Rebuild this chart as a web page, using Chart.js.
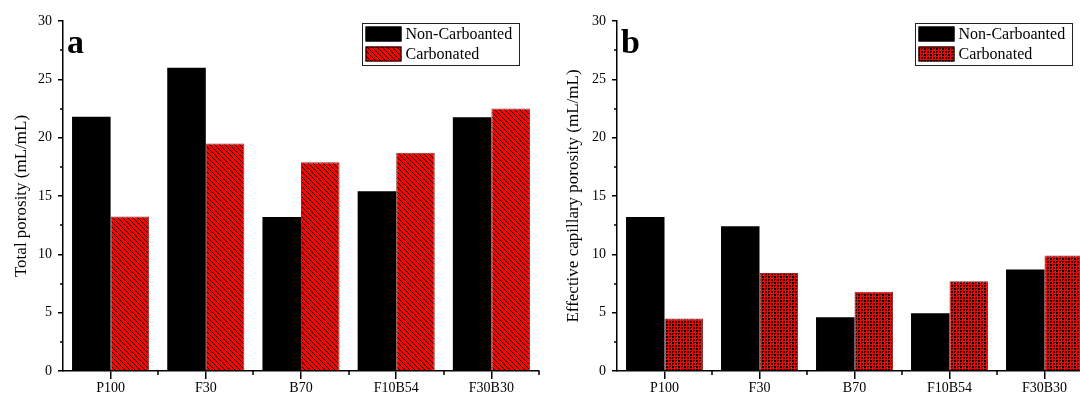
<!DOCTYPE html>
<html>
<head>
<meta charset="utf-8">
<title>Porosity</title>
<script src="https://cdn.jsdelivr.net/npm/chart.js@4.4.1/dist/chart.umd.min.js"></script>
<style>
  html, body { margin: 0; padding: 0; background: #fff; overflow: hidden; }
  #wrap { position: relative; width: 1080px; height: 396px; overflow: hidden; }
  #boxA { position: absolute; left: 0; top: 0; }
  #boxB { position: absolute; left: 540px; top: 0; }
</style>
</head>
<body>
<div id="wrap">
  <canvas id="boxA" width="540" height="396"></canvas>
  <canvas id="boxB" width="560" height="396"></canvas>
</div>
<script>
// Mix designs
const categories = ['P100', 'F30', 'B70', 'F10B54', 'F30B30'];
const seriesNames = ['Non-Carboanted', 'Carbonated'];

// (a) total porosity, mL/mL
const totalNonCarb = [21.8, 26.0, 13.2, 15.4, 21.75];
const totalCarb = [13.25, 19.5, 17.9, 18.7, 22.5];

// (b) effective capillary porosity, mL/mL
const capNonCarb = [13.2, 12.4, 4.6, 4.95, 8.7];
const capCarb = [4.5, 8.4, 6.8, 7.7, 9.9];

// y axis: labelled every 5, minor ticks between
const yMin = 0;
const yMax = 30;
const yStep = 5;

const FONT = "'Liberation Serif', 'Times New Roman', serif";

// small pixel tile -> repeating fill
function tilePattern(size, isBlack) {
  const c = document.createElement('canvas');
  c.width = size; c.height = size;
  const g = c.getContext('2d');
  const img = g.createImageData(size, size);
  for (let y = 0; y < size; y++) {
    for (let x = 0; x < size; x++) {
      const i = (y * size + x) * 4;
      img.data[i] = isBlack(x, y) ? 0 : 255;
      img.data[i + 1] = 0;
      img.data[i + 2] = 0;
      img.data[i + 3] = 255;
    }
  }
  g.putImageData(img, 0, 0);
  return g.createPattern(c, 'repeat');
}

// red fill with black "\" hatching
function hatchPattern() {
  return tilePattern(5, (x, y) => ((x - y) % 5 + 5) % 5 === 0);
}

// red fill with small black checks
function checkPattern() {
  return tilePattern(6, (x, y) => {
    if (x % 3 === 2 || y % 3 === 2) return false;
    const odd = (Math.floor(x / 3) + Math.floor(y / 3)) % 2 === 1;
    return !(odd && x % 3 === 1 && y % 3 === 1);
  });
}

// panel letter, boxed legend, minor y ticks and short ticks between groups
const panelExtras = {
  id: 'panelExtras',
  afterDraw(chart, args, opts) {
    const { ctx, chartArea, scales } = chart;
    const { left, right, top, bottom } = chartArea;
    const x = scales.x, y = scales.y;
    ctx.save();
    ctx.strokeStyle = '#000';
    ctx.lineWidth = 1.5;

    ctx.beginPath();
    for (let v = yMin + yStep / 2; v < yMax; v += yStep) {
      const py = Math.round(y.getPixelForValue(v));
      ctx.moveTo(left - 3, py);
      ctx.lineTo(left, py);
    }
    for (let i = 1; i <= categories.length; i++) {
      const px = Math.round(x.getPixelForValue(i - 0.5));
      ctx.moveTo(px, bottom);
      ctx.lineTo(px, bottom + 4);
    }
    ctx.stroke();

    // panel letter
    ctx.fillStyle = '#000';
    ctx.font = 'bold 34px ' + FONT;
    ctx.textBaseline = 'alphabetic';
    ctx.textAlign = 'left';
    ctx.fillText(opts.letter, left + 4, top + 32);

    // legend
    const bw = 157, bh = 42;
    const bx = Math.round(right - 20 - bw) + 0.5;
    const by = top + 2.5;
    ctx.lineWidth = 1;
    ctx.fillStyle = '#fff';
    ctx.fillRect(bx, by, bw, bh);
    ctx.strokeStyle = '#222';
    ctx.strokeRect(bx, by, bw, bh);
    ctx.font = '16px ' + FONT;
    ctx.textBaseline = 'middle';
    chart.data.datasets.forEach((ds, i) => {
      const sy = by + 3 + i * 20;
      ctx.fillStyle = ds.backgroundColor;
      ctx.fillRect(bx + 3, sy, 36, 15);
      ctx.strokeStyle = '#000';
      ctx.strokeRect(bx + 3.5, sy + 0.5, 35, 14);
      ctx.fillStyle = '#000';
      ctx.fillText(ds.label, bx + 43, sy + 8);
    });
    ctx.restore();
  }
};

function makeChart(id, letter, yTitle, nonCarb, carb, carbFill, layout) {
  return new Chart(document.getElementById(id), {
    type: 'bar',
    data: {
      labels: categories,
      datasets: [
        {
          label: seriesNames[0],
          data: nonCarb,
          backgroundColor: '#000',
          borderWidth: 0
        },
        {
          label: seriesNames[1],
          data: carb,
          backgroundColor: carbFill,
          borderColor: '#8a3030',
          borderWidth: 1
        }
      ]
    },
    options: {
      responsive: false,
      animation: false,
      devicePixelRatio: 1,
      layout: { padding: { top: 21, right: layout.padRight, left: 0, bottom: 0 } },
      datasets: { bar: { categoryPercentage: 0.81, barPercentage: 1 } },
      plugins: {
        legend: { display: false },
        tooltip: { enabled: false },
        panelExtras: { letter: letter }
      },
      scales: {
        x: {
          grid: { offset: false, drawOnChartArea: false, tickLength: 8, color: '#000', lineWidth: 1.5 },
          border: { color: '#000', width: 1.5 },
          ticks: { color: '#000', padding: 1, font: { family: FONT, size: 14 } },
          afterFit(scale) { scale.height = 25; }
        },
        y: {
          min: yMin,
          max: yMax,
          ticks: { stepSize: yStep, color: '#000', padding: 6, font: { family: FONT, size: 14 } },
          grid: { drawOnChartArea: false, tickLength: 5, color: '#000', lineWidth: 1.5 },
          border: { color: '#000', width: 1.5 },
          title: {
            display: true,
            text: yTitle,
            color: '#000',
            font: { family: FONT, size: 17 },
            padding: { top: layout.titlePad, bottom: 0 }
          },
          afterFit(scale) { scale.width = layout.axisWidth; }
        }
      }
    },
    plugins: [panelExtras]
  });
}

makeChart('boxA', 'a', 'Total porosity (mL/mL)', totalNonCarb, totalCarb, hatchPattern(),
  { padRight: 1, axisWidth: 63, titlePad: 11 });
makeChart('boxB', 'b', 'Effective capillary porosity (mL/mL)', capNonCarb, capCarb, checkPattern(),
  { padRight: 8, axisWidth: 77, titlePad: 23 });
</script>
</body>
</html>
